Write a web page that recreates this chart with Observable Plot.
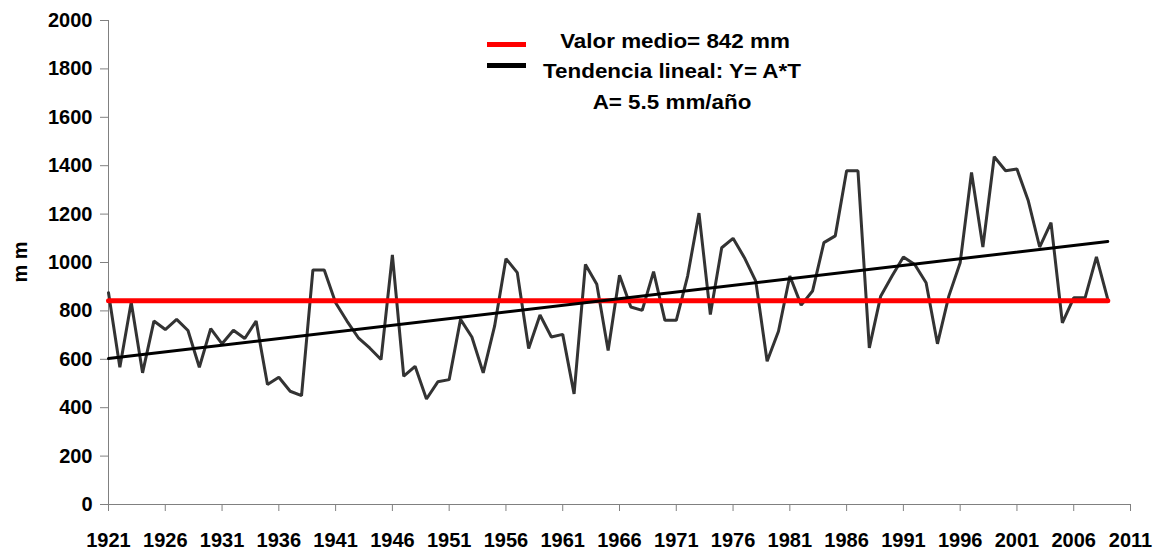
<!DOCTYPE html>
<html>
<head>
<meta charset="utf-8">
<script src="https://cdn.jsdelivr.net/npm/d3@7"></script>
<script src="https://cdn.jsdelivr.net/npm/@observablehq/plot@0.6"></script>
<style>
  html, body { margin: 0; padding: 0; background: #fff; }
  #wrap { position: relative; width: 1158px; height: 554px; font-family: "Liberation Sans", Arial, sans-serif; font-weight: bold; }
  .leg { position: absolute; font-size: 20px; color: #000; white-space: nowrap; line-height: 1; }
  .sw { position: absolute; height: 5px; }
</style>
</head>
<body>
<div id="wrap"></div>
<script>
const years = d3.range(1921, 2010);
const rainfall = [
  875, 567, 836, 544, 758, 723, 765, 719, 567, 727,
  664, 720, 686, 758, 496, 526, 468, 450, 969, 969,
  834, 758, 689, 647, 599, 1031, 530, 571, 436, 507,
  516, 765, 692, 544, 737, 1016, 958, 645, 783, 692,
  703, 457, 992, 910, 636, 947, 816, 802, 962, 761,
  761, 944, 1204, 785, 1061, 1100, 1020, 923, 592, 716,
  944, 824, 882, 1082, 1110, 1379, 1379, 647, 861, 944,
  1023, 992, 916, 664, 861, 999, 1372, 1064, 1437, 1379,
  1386, 1255, 1064, 1165, 751, 854, 854, 1023, 848
];
const meanValue = 842;
const trendYears = [1921, 2009];
const trendValues = [603, 1087];
const xTicks = d3.range(1921, 2012, 5);
const yTicks = d3.range(0, 2001, 200);

const series = years.map((y, i) => ({year: y, value: rainfall[i]}));
const meanLine = [{year: years[0], value: meanValue}, {year: years[years.length - 1], value: meanValue}];
const trend = trendYears.map((y, i) => ({year: y, value: trendValues[i]}));

const chart = Plot.plot({
  width: 1158,
  height: 554,
  marginLeft: 108,
  marginRight: 28,
  marginTop: 20,
  marginBottom: 50,
  style: {fontFamily: "'Liberation Sans', Arial, sans-serif", fontWeight: "bold", fontSize: "20px", color: "#000", background: "#fff"},
  x: {domain: [1921, 2011]},
  y: {domain: [0, 2000]},
  marks: [
    Plot.axisY({ticks: yTicks, tickSize: 8, tickPadding: 8, stroke: "#808080", fill: "#000", fontSize: 20, label: null, tickFormat: d => String(d)}),
    Plot.axisX({ticks: xTicks, tickSize: 7, tickPadding: 21, stroke: "#808080", fill: "#000", fontSize: 20, label: null, tickFormat: d => String(d)}),
    Plot.ruleX([1921], {stroke: "#808080", strokeWidth: 1}),
    Plot.ruleY([0], {stroke: "#808080", strokeWidth: 1}),
    Plot.line(series, {x: "year", y: "value", stroke: "#333333", strokeWidth: 3, strokeLinejoin: "miter"}),
    Plot.line(meanLine, {x: "year", y: "value", stroke: "#ff0000", strokeWidth: 5}),
    Plot.line(trend, {x: "year", y: "value", stroke: "#000000", strokeWidth: 3})
  ]
});

const wrap = document.getElementById("wrap");
wrap.appendChild(chart);

function addDiv(cls, css, text) {
  const d = document.createElement("div");
  d.className = cls;
  d.style.cssText = css;
  if (text) d.textContent = text;
  wrap.appendChild(d);
}
// y-axis title
addDiv("leg", "left:20px;top:262px;transform:translate(-50%,-50%) rotate(-90deg);font-size:20px;", "m m");
// legend
addDiv("sw", "left:487px;top:42px;width:39px;background:#ff0000;");
addDiv("sw", "left:487px;top:63px;width:39px;background:#000;");
addDiv("leg", "left:675px;top:41px;transform:translate(-50%,-50%) scaleX(1.12);", "Valor medio= 842 mm");
addDiv("leg", "left:672px;top:71px;transform:translate(-50%,-50%) scaleX(1.12);", "Tendencia lineal: Y= A*T");
addDiv("leg", "left:672px;top:102px;transform:translate(-50%,-50%) scaleX(1.12);", "A= 5.5 mm/año");
</script>
</body>
</html>
